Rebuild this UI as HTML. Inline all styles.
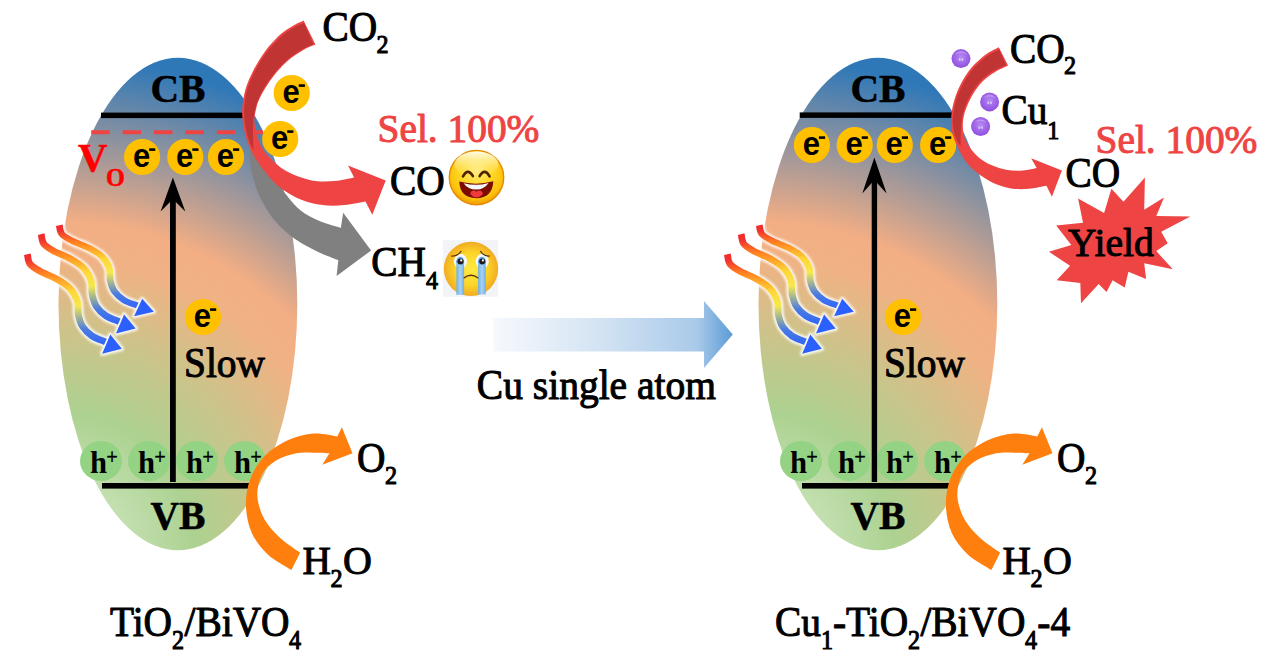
<!DOCTYPE html>
<html><head><meta charset="utf-8">
<style>
html,body{margin:0;padding:0;background:#fff;}
svg{display:block;}
text{font-family:"Liberation Serif",serif;font-size:40px;fill:#000;stroke:#000;stroke-width:1px;stroke-linejoin:round;}
.b{font-weight:bold;stroke-width:0.5px;}
.e{font-family:"Liberation Sans",sans-serif;font-weight:bold;font-size:32px;stroke:none;}
.h{font-family:"Liberation Serif",serif;font-weight:bold;font-size:31px;stroke:none;}
.sub{font-size:24.5px;}
.red{fill:#ee4444;stroke:#ee4444;}
</style></head><body>
<svg width="1270" height="659" viewBox="0 0 1270 659">
<defs>
<radialGradient id="eg" gradientUnits="userSpaceOnUse" cx="57" cy="550" r="547">
<stop offset="0" stop-color="#cbe4ba"/>
<stop offset="0.13" stop-color="#c3dfb0"/>
<stop offset="0.25" stop-color="#acd291"/>
<stop offset="0.40" stop-color="#cdc38a"/>
<stop offset="0.53" stop-color="#f0b284"/>
<stop offset="0.60" stop-color="#f3ae84"/>
<stop offset="0.90" stop-color="#2e78b8"/>
<stop offset="1" stop-color="#2e78b8"/>
</radialGradient>
<linearGradient id="bg" x1="0" y1="0" x2="1" y2="0">
<stop offset="0" stop-color="#f6f9fd"/>
<stop offset="0.45" stop-color="#d3e3f3"/>
<stop offset="0.85" stop-color="#a9caea"/>
<stop offset="1" stop-color="#5b9bd5"/>
</linearGradient>
<linearGradient id="wg" gradientUnits="userSpaceOnUse" x1="0" y1="0" x2="0" y2="94">
<stop offset="0" stop-color="#f02c2c"/>
<stop offset="0.06" stop-color="#f03030"/>
<stop offset="0.2" stop-color="#ff8220"/>
<stop offset="0.40" stop-color="#ffd838"/>
<stop offset="0.55" stop-color="#f6e850"/>
<stop offset="0.66" stop-color="#a9b98c"/>
<stop offset="0.80" stop-color="#4a7be0"/>
<stop offset="1" stop-color="#2b60ff"/>
</linearGradient>
<radialGradient id="pg" cx="0.5" cy="0.42" r="0.6">
<stop offset="0" stop-color="#b58cf0"/>
<stop offset="0.55" stop-color="#a066e8"/>
<stop offset="1" stop-color="#8d4fdc"/>
</radialGradient>
<g id="sph"><circle r="9.5" fill="url(#pg)"/><ellipse cx="-1.3" cy="0.9" rx="1" ry="1.5" fill="#e4d4fa" opacity="0.8"/><ellipse cx="1.4" cy="0.9" rx="1" ry="1.5" fill="#e4d4fa" opacity="0.8"/><path d="M-6.5,-4 Q0,-10.5 6.5,-4 Q0,-7 -6.5,-4Z" fill="#c6a6f4" opacity="0.7"/></g>
<radialGradient id="hf" cx="0.5" cy="0.38" r="0.62">
<stop offset="0" stop-color="#ffea80"/>
<stop offset="0.45" stop-color="#ffd826"/>
<stop offset="0.82" stop-color="#fcc20c"/>
<stop offset="1" stop-color="#f09800"/>
</radialGradient>
<linearGradient id="hgl" x1="0" y1="0" x2="0" y2="1">
<stop offset="0" stop-color="#fffef0" stop-opacity="0.95"/>
<stop offset="1" stop-color="#ffe870" stop-opacity="0"/>
</linearGradient>
<radialGradient id="cf" cx="0.5" cy="0.5" r="0.55">
<stop offset="0" stop-color="#ffec40"/>
<stop offset="0.55" stop-color="#fcd428"/>
<stop offset="0.85" stop-color="#f4b224"/>
<stop offset="1" stop-color="#eea020"/>
</radialGradient>
<linearGradient id="tg" x1="0" y1="0" x2="1" y2="0">
<stop offset="0" stop-color="#6fb0e8"/>
<stop offset="0.5" stop-color="#a6d2f4"/>
<stop offset="1" stop-color="#6fb0e8"/>
</linearGradient>
<g id="ec">
  <circle r="18.1" fill="#ffc000"/>
  <text class="e" transform="translate(-9.2 9.6) scale(.97 1.02)">e</text>
  <rect x="7" y="-8.7" width="6.2" height="2.6" fill="#000"/>
</g>
<g id="hc">
  <ellipse rx="21" ry="19.9" fill="#93d383"/>
  <text class="h" transform="translate(-10.9 11.8) scale(.99 1.0)">h</text>
  <text style="font-size:20px;stroke-width:0.5px" transform="translate(5.6 2.7) scale(.985 1.045)">+</text>
</g>
<filter id="hb" x="-20%" y="-20%" width="140%" height="140%"><feGaussianBlur stdDeviation="0.9"/></filter>
<filter id="sb" x="-20%" y="-20%" width="140%" height="140%"><feGaussianBlur stdDeviation="0.45"/></filter>
<g id="wave">
  <path d="M0.0,0.0 C0.4,1.6 0.4,6.8 2.5,9.6 C4.6,12.4 8.3,14.5 12.7,17.0 C17.1,19.5 23.7,21.6 28.7,24.4 C33.7,27.2 39.0,30.3 42.5,34.0 C46.0,37.7 48.5,42.3 49.9,46.7 C51.3,51.1 50.1,56.2 51.0,60.5 C51.9,64.8 52.9,68.7 55.2,72.2 C57.5,75.8 61.0,79.2 64.8,81.8 C68.6,84.3 75.8,86.5 78.0,87.5" fill="none" stroke="#fff" stroke-width="11" stroke-linecap="round" opacity="0.85" filter="url(#hb)"/>
  <path d="M82.9,80.3 L94.5,94.5 L74.8,99.4 Z" fill="#fff" stroke="#fff" stroke-width="4.5" stroke-linejoin="round" opacity="0.85" filter="url(#hb)"/>
  <path d="M0.0,0.0 C0.4,1.6 0.4,6.8 2.5,9.6 C4.6,12.4 8.3,14.5 12.7,17.0 C17.1,19.5 23.7,21.6 28.7,24.4 C33.7,27.2 39.0,30.3 42.5,34.0 C46.0,37.7 48.5,42.3 49.9,46.7 C51.3,51.1 50.1,56.2 51.0,60.5 C51.9,64.8 52.9,68.7 55.2,72.2 C57.5,75.8 61.0,79.2 64.8,81.8 C68.6,84.3 75.8,86.5 78.0,87.5" fill="none" stroke="url(#wg)" stroke-width="6.8" stroke-linecap="butt" filter="url(#sb)"/>
  <path d="M82.9,80.3 L94.5,94.5 L74.8,99.4 Z" fill="#2b60ff"/>
</g>
<g id="panel">
  <ellipse cx="177.9" cy="304" rx="119.4" ry="246.3" fill="url(#eg)"/>
  <use href="#wave" transform="translate(59.3,225.2) scale(1,0.917)"/>
  <use href="#wave" x="41.2" y="234.1"/>
  <use href="#wave" x="27.4" y="254.3"/>
  <text class="b" transform="translate(150.5 101.8) scale(.99 1.0)">CB</text>
  <text class="b" transform="translate(150.5 529.3) scale(.99 1.0)">VB</text>
  <text transform="translate(184 377) scale(.985 1.045)">Slow</text>
  <use href="#ec" x="203" y="317"/>
  <use href="#hc" x="101" y="461"/>
  <use href="#hc" x="149" y="461"/>
  <use href="#hc" x="197" y="461"/>
  <use href="#hc" x="245" y="461"/>
  <rect x="102" y="483" width="150" height="5.6" fill="#000"/>
  <!-- orange arrow -->
  <path d="M291.4,570.0 C287.4,567.4 274.1,560.5 267.5,554.2 C260.9,548.0 255.2,540.7 251.6,532.5 C248.0,524.3 246.1,514.1 245.9,505.2 C245.7,496.3 247.1,487.4 250.2,479.2 C253.3,471.0 258.4,462.6 264.6,456.1 C270.9,449.6 279.5,444.1 287.7,440.3 C295.9,436.6 305.3,434.2 313.6,433.6 C321.9,433.0 333.4,436.0 337.3,436.5 L341.9,427.3 L352.5,453.3 L322.3,464.8 L329.5,453.3 C326.9,453.2 319.1,452.7 313.6,452.7 C308.1,452.7 302.6,452.0 296.3,453.3 C290.1,454.6 281.9,456.9 276.1,460.5 C270.3,464.1 264.8,468.9 261.7,474.9 C258.6,480.9 256.9,489.1 257.4,496.5 C257.9,503.9 260.8,512.6 264.6,519.6 C268.5,526.6 274.6,532.8 280.5,538.3 C286.4,543.8 296.8,550.3 300.1,552.7 Z" fill="#ff7f0e"/>
  <text transform="translate(357 471.8) scale(.985 1.045)">O</text><text class="sub" transform="translate(385 484.2) scale(.985 1.045)">2</text>
  <text transform="translate(302.5 574) scale(.985 1.0)">H</text><text class="sub" transform="translate(330.5 587.3) scale(.985 1.045)">2</text><text transform="translate(343 574) scale(1.0 1.0)">O</text>
</g>
</defs>

<!-- LEFT PANEL -->
<use href="#panel"/>
<g id="leftonly">
  <rect x="101" y="112.6" width="145" height="5.5" fill="#000"/>
  <line x1="91.2" y1="132.3" x2="263" y2="132.3" stroke="#ee4444" stroke-width="4" stroke-dasharray="18.5 12.9"/>
  <text class="b" style="fill:#ff0000;stroke:#ff0000" transform="translate(78 171.2) scale(1.02 1.02)">V</text>
  <text class="b sub" style="fill:#ff0000;stroke:#ff0000" transform="translate(106 185.5) scale(.99 1.0)">O</text>
  <use href="#ec" x="142.1" y="157"/>
  <use href="#ec" x="185.3" y="157"/>
  <use href="#ec" x="226" y="157"/>
  <!-- vertical arrow -->
  <rect x="170" y="195" width="5.8" height="287" fill="#000"/>
  <path d="M172.9,177.4 L185.3,211.6 L175.8,202 L170,202 L160.6,211.6 Z" fill="#000"/>
  <!-- gray arrow -->
  <path d="M262.0,150.0 C263.3,153.3 266.0,162.6 270.0,170.0 C274.0,177.4 281.0,187.9 286.1,194.6 C291.2,201.3 295.0,205.9 300.7,210.4 C306.4,214.9 313.4,218.4 320.1,221.3 C326.8,224.2 337.4,226.8 340.8,227.9 L343.2,212.8 L371.1,250.5 L336.6,276.0 L338.3,260.2 C334.9,258.8 324.8,255.1 317.7,251.7 C310.6,248.2 302.7,244.4 295.8,239.5 C288.9,234.6 282.1,229.0 276.4,222.5 C270.7,216.0 265.6,208.0 261.8,200.7 C258.0,193.4 255.4,186.1 253.4,178.8 C251.4,171.5 250.3,163.5 249.7,157.0 C249.0,150.5 249.5,142.8 249.5,140.0 Z" fill="#808080"/>
  <!-- red arrow -->
  <path id="redL" d="M303.6,20.6 C301.8,21.5 296.6,23.6 292.7,25.9 C288.8,28.2 285.1,30.1 280.5,34.3 C275.9,38.5 269.9,44.9 265.3,51.0 C260.8,57.1 256.5,64.4 253.2,70.7 C249.9,77.0 247.4,82.7 245.6,88.9 C243.8,95.1 242.7,102.0 242.3,108.0 C241.9,114.0 242.4,119.2 243.3,125.0 C244.2,130.8 246.0,137.8 247.9,143.1 C249.8,148.4 251.6,151.8 254.7,157.0 C257.8,162.2 262.3,168.7 266.7,174.0 C271.1,179.3 275.6,184.3 281.3,188.6 C287.0,192.8 293.8,196.8 300.7,199.5 C307.6,202.2 315.2,204.2 322.5,205.1 C329.8,206.0 337.2,205.7 344.4,205.1 C351.6,204.5 362.0,202.1 365.5,201.5 L372.3,214.8 L385.7,180.4 L348.0,165.5 L354.1,177.6 C351.3,178.1 343.2,180.2 337.1,180.8 C331.0,181.4 324.2,182.0 317.7,181.3 C311.2,180.6 304.4,178.6 298.3,176.4 C292.2,174.2 286.6,171.5 281.3,167.9 C276.0,164.3 270.4,158.8 266.7,154.6 C263.0,150.3 261.3,146.5 259.4,142.4 C257.5,138.3 256.3,134.1 255.5,130.0 C254.7,125.9 254.2,122.2 254.5,118.0 C254.8,113.8 256.6,107.2 257.0,105.0 C257.4,104.0 257.9,101.8 259.3,99.0 C260.7,96.2 262.5,92.3 265.3,88.0 C268.1,83.7 272.2,77.6 276.0,73.0 C279.8,68.4 283.6,64.3 288.1,60.5 C292.7,56.7 298.8,52.6 303.3,50.0 C307.9,47.4 313.4,45.5 315.4,44.6 Z" fill="#ee4444"/>
  <path d="M304.0,23.0 C302.2,23.8 297.2,25.6 293.5,27.8 C289.8,30.0 286.1,31.9 281.6,36.0 C277.1,40.1 271.2,46.4 266.7,52.3 C262.2,58.2 258.0,65.3 254.8,71.5 C251.6,77.7 249.1,83.4 247.3,89.5 C245.5,95.6 244.6,102.6 244.2,108.0 C243.8,113.4 244.3,117.4 244.8,122.0 C245.3,126.6 246.3,131.4 247.4,135.5 C248.5,139.6 250.5,144.2 251.5,146.5 C252.5,148.8 253.2,149.0 253.6,149.5 L253.6,149.5 C253.5,147.2 253.1,140.4 253.0,135.5 C252.9,130.6 252.8,125.3 253.3,120.3 C253.9,115.2 254.6,110.4 256.3,105.2 C258.0,100.0 260.5,94.4 263.5,89.0 C266.5,83.6 270.6,77.8 274.5,73.0 C278.4,68.2 282.4,63.9 287.0,60.0 C291.6,56.1 297.6,52.1 302.0,49.5 C306.4,46.9 311.4,45.1 313.3,44.2 Z" fill="#c03434"/>
  <use href="#ec" x="291.7" y="93"/>
  <use href="#ec" x="280.2" y="139"/>
  <text transform="translate(322.5 40.8) scale(.985 1.045)">CO</text><text class="sub" transform="translate(376.5 53) scale(.985 1.045)">2</text>
  <text class="red" transform="translate(377.5 142.2) scale(.985 1.0)">Sel. 100%</text>
  <text transform="translate(390 194.8) scale(.985 1.045)">CO</text>
  <text transform="translate(371.2 275.8) scale(.985 1.045)">CH</text><text class="sub" transform="translate(426 288.6) scale(.985 1.045)">4</text>
  <!-- happy emoji -->
  <g id="happy">
    <circle cx="476.5" cy="177.6" r="27.2" fill="url(#hf)" stroke="#e38a00" stroke-width="1.4"/>
    <ellipse cx="476.5" cy="164.5" rx="22" ry="13" fill="url(#hgl)"/>
    <path d="M463,176.4 Q467.8,167.5 472.9,176.2" fill="none" stroke="#4e2400" stroke-width="2.6" stroke-linecap="round"/>
    <path d="M479.6,176.2 Q484.6,167.5 489.6,176.4" fill="none" stroke="#4e2400" stroke-width="2.6" stroke-linecap="round"/>
    <path d="M459.2,181.6 Q476.5,186 493.3,181.3 Q492.5,198 476.3,198.3 Q460,198 459.2,181.6 Z" fill="#7c0c00"/>
    <path d="M463.6,183.2 Q476.5,186.6 488.6,183 Q484,189.6 476.3,189.6 Q468,189.6 463.6,183.2 Z" fill="#f4f8fb"/>
    <path d="M470.4,194.2 Q470.4,190.6 474,190.6 Q476,190.6 476.5,192 Q477,190.6 479.2,190.6 Q482.8,190.6 482.8,194.2 Q480,197.4 476.5,197.4 Q473,197.4 470.4,194.2 Z" fill="#ee3a3a"/>
  </g>
  <!-- crying emoji -->
  <g id="cry">
    <rect x="442.9" y="240.1" width="55.3" height="56.6" fill="#f3f4f7"/>
    <circle cx="471" cy="268.9" r="27.2" fill="url(#cf)"/>
    <ellipse cx="460.5" cy="261.2" rx="6.6" ry="7.4" fill="#f5f7fa"/>
    <ellipse cx="482.2" cy="261.2" rx="6.6" ry="7.4" fill="#f5f7fa"/>
    <rect x="456.4" y="260" width="7.7" height="34.8" fill="url(#tg)"/>
    <rect x="478.1" y="260" width="7.7" height="34.4" fill="url(#tg)"/>
    <path d="M456.4,263 Q456.4,256.8 460.3,256.8 Q464.1,256.8 464.1,263 Z" fill="#5fa3e4"/>
    <path d="M478.1,263 Q478.1,256.8 482,256.8 Q485.8,256.8 485.8,263 Z" fill="#5fa3e4"/>
    <circle cx="460.5" cy="261.6" r="3" fill="#1c1c22"/>
    <circle cx="482.2" cy="261.6" r="3" fill="#1c1c22"/>
    <circle cx="461.2" cy="260.4" r="1.1" fill="#fff"/>
    <circle cx="482.9" cy="260.4" r="1.1" fill="#fff"/>
    <path d="M451.6,256 Q457.5,256.6 461,251.4" fill="none" stroke="#5a3208" stroke-width="1.2" stroke-linecap="round"/>
    <path d="M480.6,251.4 Q484,256.6 489.6,256" fill="none" stroke="#5a3208" stroke-width="1.2" stroke-linecap="round"/>
    <path d="M464.2,277.8 Q471,272.8 477.8,277.8" fill="none" stroke="#5a3208" stroke-width="1.4" stroke-linecap="round"/>
  </g>
  <text transform="translate(110 636) scale(.985 1.075)">TiO</text><text class="sub" transform="translate(172 648.5) scale(.985 1.075)">2</text><text transform="translate(184.5 636) scale(.985 1.075)">/BiVO</text><text class="sub" transform="translate(289 648.5) scale(.985 1.075)">4</text>
</g>
<!-- RIGHT PANEL -->
<use href="#panel" x="700"/>
<g id="rightonly">
  <rect x="799.7" y="112.4" width="153" height="5.5" fill="#000"/>
  <use href="#ec" x="811.9" y="145"/>
  <use href="#ec" x="854.7" y="145"/>
  <use href="#ec" x="894.8" y="145"/>
  <use href="#ec" x="938.1" y="145"/>
  <rect x="871.7" y="178" width="5.4" height="304" fill="#000"/>
  <path d="M874.4,157.4 L886.6,193.4 L877.1,183 L871.7,183 L862.3,193.4 Z" fill="#000"/>
  <path d="M998.8,47.2 C996.6,48.5 989.9,51.3 985.4,54.7 C980.9,58.1 975.7,62.7 971.6,67.6 C967.5,72.5 963.7,78.5 960.7,84.3 C957.7,90.0 955.4,96.2 953.8,102.1 C952.2,108.0 951.2,114.4 951.0,119.8 C950.8,125.2 951.7,129.9 952.8,134.5 C953.9,139.1 955.7,142.9 957.8,147.3 C959.9,151.8 962.3,156.9 965.6,161.2 C968.9,165.5 972.9,169.4 977.5,173.0 C982.1,176.6 987.7,180.3 993.3,182.9 C998.9,185.5 1005.1,187.4 1011.0,188.4 C1016.9,189.4 1022.9,189.2 1028.8,188.8 C1034.7,188.4 1043.5,186.3 1046.5,185.8 L1051.9,196.7 L1061.9,170.5 L1031.1,158.2 L1036.7,168.1 C1034.4,168.5 1027.8,170.3 1022.9,170.6 C1018.0,170.9 1012.4,170.9 1007.1,170.0 C1001.8,169.1 996.1,167.2 991.3,165.1 C986.5,163.0 982.1,160.2 978.5,157.2 C974.9,154.2 971.9,150.6 969.6,147.3 C967.3,144.0 965.6,140.9 964.5,137.5 C963.4,134.1 962.9,130.2 962.8,126.6 C962.7,123.0 963.0,119.5 963.8,116.0 C964.5,112.5 965.7,109.2 967.3,105.4 C968.9,101.6 971.0,97.2 973.5,93.2 C976.0,89.2 979.0,85.0 982.5,81.5 C986.0,78.0 990.0,75.2 994.3,72.5 C998.6,69.8 1005.8,66.8 1008.1,65.6 Z" fill="#ee4444"/>
  <path d="M999.2,49.4 C997.1,50.6 990.8,53.2 986.4,56.5 C982.0,59.8 977.0,64.2 973.0,69.0 C969.0,73.8 965.2,79.6 962.3,85.2 C959.4,90.8 957.1,96.8 955.5,102.6 C953.9,108.4 953.0,114.9 952.8,119.8 C952.6,124.7 953.4,128.4 954.2,132.0 C955.0,135.6 956.4,139.2 957.5,141.5 C958.6,143.8 960.2,145.2 960.7,146.0 L960.7,146.0 C960.7,144.3 960.5,139.3 960.6,136.0 C960.7,132.7 960.9,129.3 961.2,126.0 C961.5,122.7 961.5,119.5 962.3,116.0 C963.1,112.5 964.2,108.9 965.8,105.0 C967.4,101.1 969.4,96.6 972.0,92.5 C974.6,88.4 977.7,83.9 981.2,80.3 C984.7,76.7 989.1,73.6 993.2,71.0 C997.3,68.4 1003.9,65.9 1006.0,64.9 Z" fill="#c03434"/>
  <use href="#sph" x="961" y="58.6"/>
  <use href="#sph" x="989.6" y="101.9"/>
  <use href="#sph" x="980.6" y="126.5"/>
  <text transform="translate(1010 62.6) scale(.985 1.045)">CO</text><text class="sub" transform="translate(1064 73.5) scale(.985 1.045)">2</text>
  <text transform="translate(1001.5 124.2) scale(.985 1.045)">Cu</text><text class="sub" transform="translate(1047.3 138.6) scale(.985 1.045)">1</text>
  <text class="red" transform="translate(1095.5 152.8) scale(.985 1.0)">Sel. 100%</text>
  <text transform="translate(1065.6 187) scale(.985 1.045)">CO</text>
  <polygon points="1144.9,177.5 1144.2,209.8 1164.0,197.6 1156.3,215.9 1190.3,216.6 1161.2,231.7 1167.7,243.3 1156.3,251.1 1172.8,269.3 1144.2,263.2 1146.1,279.0 1128.4,271.7 1124.7,287.5 1112.6,280.2 1106.5,291.9 1098.7,283.9 1081.0,303.3 1080.3,283.1 1056.7,280.2 1070.1,265.7 1048.9,251.8 1071.3,245.0 1056.2,225.6 1083.0,222.7 1078.1,198.4 1104.1,213.0 1111.4,188.7 1123.5,201.8" fill="#ee4444"/>
  <text transform="translate(1068 256.2) scale(.99 1.0)">Yield</text>
  <text transform="translate(775 636.2) scale(.985 1.075)">Cu</text><text class="sub" transform="translate(821 648.5) scale(.985 1.075)">1</text><text transform="translate(833 636.2) scale(.985 1.075)">-TiO</text><text class="sub" transform="translate(908 648.5) scale(.985 1.075)">2</text><text transform="translate(920.4 636.2) scale(.985 1.075)">/BiVO</text><text class="sub" transform="translate(1025 648.5) scale(.985 1.075)">4</text><text transform="translate(1037.3 636.2) scale(.985 1.075)">-4</text>
</g>
<!-- CENTER -->
<path d="M493,318 L704,318 L704,301 L732.8,334.5 L704,368 L704,351.6 L493,351.6 Z" fill="url(#bg)"/>
<text transform="translate(476.8 398.6) scale(.988 1.075)">Cu single atom</text>

</svg>
</body></html>
